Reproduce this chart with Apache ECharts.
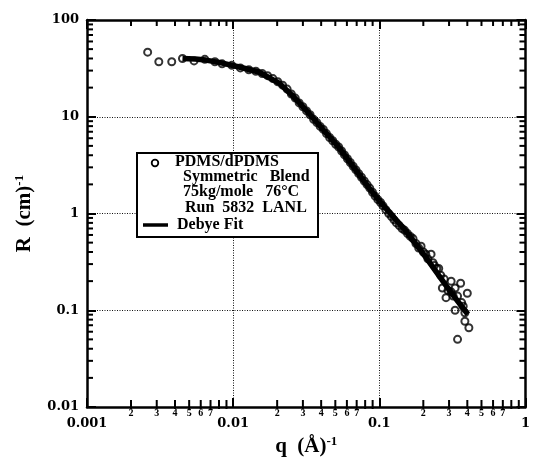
<!DOCTYPE html>
<html>
<head>
<meta charset="utf-8">
<script src="https://cdn.jsdelivr.net/npm/echarts@6/dist/echarts.min.js"></script>
<style>
  html,body{margin:0;padding:0;background:#fff}
  #c{width:533px;height:463px}
</style>
</head>
<body>
<div id="c"></div>
<script>
// 测量数据(空心圈):q (1/Å), R (1/cm)
const qData = [0.0026,0.0031,0.0038,0.0045,0.0054,0.0064,0.0075,0.0084,0.0098,0.0112,0.0128,0.0143,
  0.0158,0.0172,0.0187,0.0202,0.0218,0.0234,0.0250,0.0266,0.0283,0.0300,0.0318,0.0336,0.0355,0.0374,
  0.0394,0.0414,0.0435,0.0457,0.0480,0.0503,0.0527,0.0552,0.0578,0.0605,0.0633,0.0662,0.0692,0.0723,
  0.0755,0.0789,0.0824,0.0860,0.0898,0.0937,0.0978,0.102,0.106,0.111,0.116,0.121,0.126,0.131,0.137,
  0.143,0.149,0.156,0.163,0.170,0.178,0.186,0.193,0.200,0.208,0.215,0.226,0.233,0.238,0.247,0.255,
  0.263,0.270,0.278,0.286,0.295,0.310,0.310,0.320,0.330,0.343,0.330,0.343,0.360,0.366,0.375,0.385,
  0.385,0.400,0.410]
const rData = [46.5,37,37,40,37.8,39.2,37,35.2,34,32,30.6,29.5,
  28,26.6,24.8,23,21.2,19.3,17.2,15.6,13.9,12.7,11.5,10.5,9.4,8.7,
  7.95,7.4,6.7,6.1,5.65,5.2,4.87,4.42,4.03,3.68,3.37,3.08,2.82,2.58,
  2.37,2.17,1.99,1.83,1.66,1.51,1.39,1.30,1.2,1.09,1.0,0.93,0.86,0.80,0.75,
  0.70,0.67,0.62,0.58,0.55,0.49,0.44,0.46,0.40,0.38,0.34,0.38,0.31,0.29,0.27,0.27,
  0.23,0.17,0.21,0.135,0.16,0.20,0.155,0.14,0.17,0.14,0.10,0.05,0.19,0.12,0.11,0.094,
  0.077,0.15,0.066]
// Debye 拟合曲线
const qFit = [0.0045,0.0055,0.0065,0.008,0.011,0.015,0.0206,0.0252,0.0329,0.0403,0.0526,0.0615,
  0.0841,0.1016,0.150,0.184,0.206,0.309,0.403]
const rFit = [40,39.5,38.5,36.5,32.7,29,22.3,16.8,10.9,7.65,4.87,3.55,
  1.88,1.31,0.675,0.451,0.36,0.153,0.091]
// 坐标轴
const xMin = 0.001, xMax = 1, yMin = 0.01, yMax = 100
const xDecades = [0.001,0.01,0.1]
const yDecades = [0.01,0.1,1,10]
const minorMult = [2,3,4,5,6,7,8,9]
const minorLabelMax = 7   // x 轴次刻度只标 2..7
const legendLines = ['PDMS/dPDMS','Symmetric   Blend','75kg/mole   76°C','Run  5832  LANL']
const fitName = 'Debye Fit'

const SERIF = '"Liberation Serif","DejaVu Serif",serif'
const LBL = '"DejaVu Serif","Liberation Serif",serif'

// 次刻度:[x, y, 轴(0=x,1=y), 倍数]
const minorTicks = []
xDecades.forEach(d=>minorMult.forEach(m=>minorTicks.push([d*m, yMin, 0, m])))
yDecades.forEach(d=>minorMult.forEach(m=>minorTicks.push([xMin, d*m, 1, m])))

function renderTick(params, api){
  const axis = api.value(2), m = api.value(3)
  const st = () => ({stroke:'#000', lineWidth:2})
  const ch = []
  if(axis===0){
    const v = api.value(0)
    const b = api.coord([v, yMin]), t = api.coord([v, yMax])
    ch.push({type:'line', shape:{x1:b[0],y1:b[1]+2,x2:b[0],y2:b[1]-7}, style:st()})
    ch.push({type:'line', shape:{x1:t[0],y1:t[1],x2:t[0],y2:t[1]+6}, style:st()})
    if(m<=minorLabelMax) ch.push({type:'text', style:{text:String(m), x:b[0], y:b[1]+6,
      align:'center', verticalAlign:'middle', fill:'#000', font:'bold 10px '+SERIF}})
  } else {
    const v = api.value(1)
    const l = api.coord([xMin, v]), r = api.coord([xMax, v])
    ch.push({type:'line', shape:{x1:l[0],y1:l[1],x2:l[0]+6,y2:l[1]}, style:st()})
    ch.push({type:'line', shape:{x1:r[0],y1:r[1],x2:r[0]-6,y2:r[1]}, style:st()})
  }
  return {type:'group', children:ch}
}

const fmtNum = v => String(+v.toPrecision(3))
const axisBase = {
  type:'log', logBase:10,
  axisLine:{show:true, onZero:false, lineStyle:{color:'#000', width:2.5}},
  axisTick:{show:true, inside:true, length:9, lineStyle:{color:'#000', width:2}},
  minorTick:{show:false}
}
const titleRich = {
  a:{fontFamily:SERIF, fontWeight:'bold', fontSize:21, color:'#000', lineHeight:24},
  s:{fontFamily:SERIF, fontWeight:'bold', fontSize:13, color:'#000', lineHeight:13, verticalAlign:'top'}
}

const chart = echarts.init(document.getElementById('c'))
chart.setOption({
  animation:false,
  backgroundColor:'#fff',
  grid:{left:87, top:20, right:5, bottom:56},
  xAxis:[
    Object.assign({}, axisBase, {
      min:xMin, max:xMax, position:'bottom',
      axisLabel:{color:'#000', fontFamily:LBL, fontWeight:'bold', fontSize:13, margin:10, formatter:fmtNum},
      splitLine:{show:true, lineStyle:{color:'#111', width:1, type:[1,1.5]}},
      name:'{a|q  (Å)}{s|-1}', nameLocation:'middle', nameGap:28,
      nameTextStyle:{rich:titleRich}
    }),
    Object.assign({}, axisBase, {
      min:xMin, max:xMax, position:'top',
      axisLabel:{show:false}, splitLine:{show:false}
    })
  ],
  yAxis:[
    Object.assign({}, axisBase, {
      min:yMin, max:yMax, position:'left',
      axisLabel:{color:'#000', fontFamily:LBL, fontWeight:'bold', fontSize:13, margin:8, formatter:fmtNum},
      splitLine:{show:true, lineStyle:{color:'#111', width:1, type:[1,1.5]}},
      name:'{a|R  (cm)}{s|-1}', nameLocation:'middle', nameGap:50, nameRotate:90,
      nameTextStyle:{rich:titleRich}
    }),
    Object.assign({}, axisBase, {
      min:yMin, max:yMax, position:'right',
      axisLabel:{show:false}, splitLine:{show:false}
    })
  ],
  series:[
    {type:'custom', name:'ticks', renderItem:renderTick, data:minorTicks,
      encode:{x:0, y:1}, clip:false, silent:true, z:5},
    {type:'line', name:fitName, data:qFit.map((q,i)=>[q, rFit[i]]),
      showSymbol:false, lineStyle:{color:'#000', width:5.5}, z:3},
    {type:'scatter', name:legendLines[0], data:qData.map((q,i)=>[q, rData[i]]),
      symbol:'circle', symbolSize:7,
      itemStyle:{color:'rgba(255,255,255,0)', borderColor:'#000', borderWidth:2}, z:4}
  ],
  graphic:[
    {type:'rect', shape:{x:137, y:153, width:181, height:84}, style:{fill:'#fff', stroke:'#000', lineWidth:2}, z:100},
    {type:'circle', shape:{cx:155, cy:163, r:3.3}, style:{fill:'#fff', stroke:'#000', lineWidth:1.8}, z:101},
    {type:'line', shape:{x1:143, y1:225, x2:168, y2:225}, style:{stroke:'#000', lineWidth:3.5}, z:101},
    {type:'text', x:175, y:162, style:{text:legendLines[0], font:'bold 16px '+SERIF, fill:'#000', verticalAlign:'middle'}, z:101},
    {type:'text', x:183, y:177, style:{text:legendLines[1], font:'bold 16px '+SERIF, fill:'#000', verticalAlign:'middle'}, z:101},
    {type:'text', x:183, y:192, style:{text:legendLines[2], font:'bold 16px '+SERIF, fill:'#000', verticalAlign:'middle'}, z:101},
    {type:'text', x:185, y:208, style:{text:legendLines[3], font:'bold 16px '+SERIF, fill:'#000', verticalAlign:'middle'}, z:101},
    {type:'text', x:177, y:225, style:{text:fitName, font:'bold 16px '+SERIF, fill:'#000', verticalAlign:'middle'}, z:101}
  ]
})
</script>
</body>
</html>
